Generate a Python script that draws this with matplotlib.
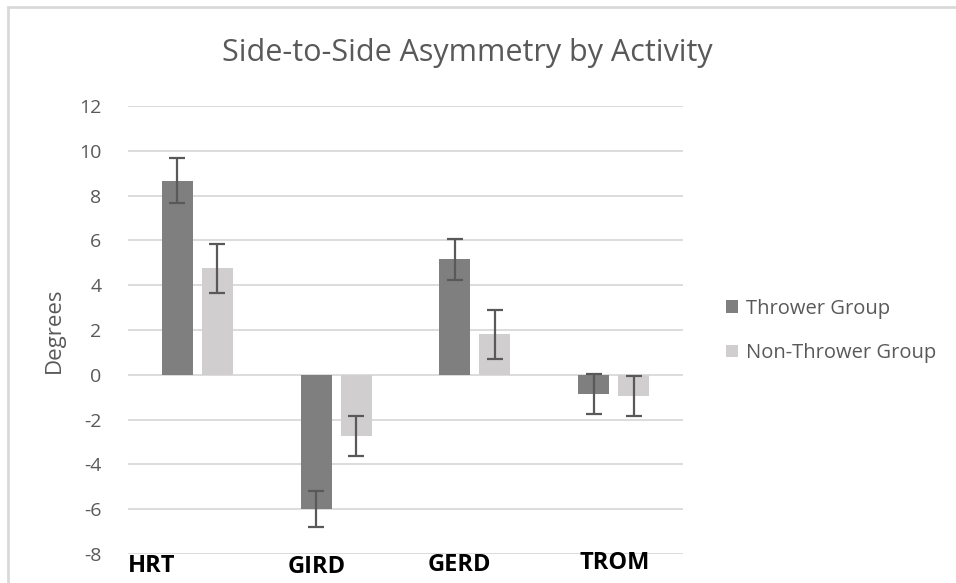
import numpy as np
import matplotlib
matplotlib.use("Agg")
import matplotlib.pyplot as plt
from matplotlib.patches import Rectangle

plt.rcParams['font.family'] = ['Open Sans', 'DejaVu Sans']

categories = ['HRT', 'GIRD', 'GERD', 'TROM']
thrower = [8.67, -6.0, 5.15, -0.85]
thrower_err = [1.0, 0.8, 0.9, 0.9]
non_thrower = [4.75, -2.72, 1.8, -0.94]
non_thrower_err = [1.1, 0.9, 1.1, 0.9]
yticks = list(range(-8, 13, 2))

# where the bold category labels sit (data coords, left edge / centre y)
label_pos = [(-0.5, -8.54), (0.651, -8.58), (1.658, -8.51), (2.752, -8.38)]

dark = '#7f7f7f'
light = '#d0cece'
errc = '#595959'
textc = '#595959'

fig = plt.figure(figsize=(9.56, 5.83), dpi=100)
ax = fig.add_axes([128/956, 29/583, 555/956, 448/583])

x = np.arange(len(categories))
w = 0.223
off = 0.144
ek = dict(ecolor=errc, elinewidth=1.6, capsize=6, capthick=1.6)
ax.bar(x - off, thrower, w, color=dark, yerr=thrower_err, error_kw=ek,
       label='Thrower Group', zorder=3)
ax.bar(x + off, non_thrower, w, color=light, yerr=non_thrower_err, error_kw=ek,
       label='Non-Thrower Group', zorder=3)

ax.set_xlim(-0.5, 3.5)
ax.set_ylim(-8, 12)
ax.set_yticks(yticks)
ax.set_yticklabels([str(t) for t in yticks], fontsize=14, color=textc)
ax.tick_params(axis='y', length=0, pad=19)
ax.set_xticks([])
ax.grid(axis='y', color='#d9d9d9', linewidth=1.3, zorder=0)
for s in ax.spines.values():
    s.set_visible(False)

ax.set_ylabel('Degrees', fontsize=16, color=textc, labelpad=10)

for name, (lx, ly) in zip(categories, label_pos):
    ax.text(lx, ly, name, fontsize=17, fontweight='bold', color='black',
            ha='left', va='center')

fig.text(467/956, 1 - 53/583, 'Side-to-Side Asymmetry by Activity',
         fontsize=22, color=textc, ha='center', va='center')

leg = fig.legend(loc='center left', bbox_to_anchor=(708/956, 1 - 331/583),
                 frameon=False, fontsize=14.5, handlelength=0.6, handleheight=0.6,
                 handletextpad=0.4, labelspacing=1.2)
for t in leg.get_texts():
    t.set_color(textc)

fig.patches.append(Rectangle((8/956, -0.1), 1.2, 1 - 7/583 + 0.1,
                             transform=fig.transFigure, fill=False,
                             edgecolor='#d9d9d9', linewidth=2))

fig.savefig('out.png', dpi=100)
